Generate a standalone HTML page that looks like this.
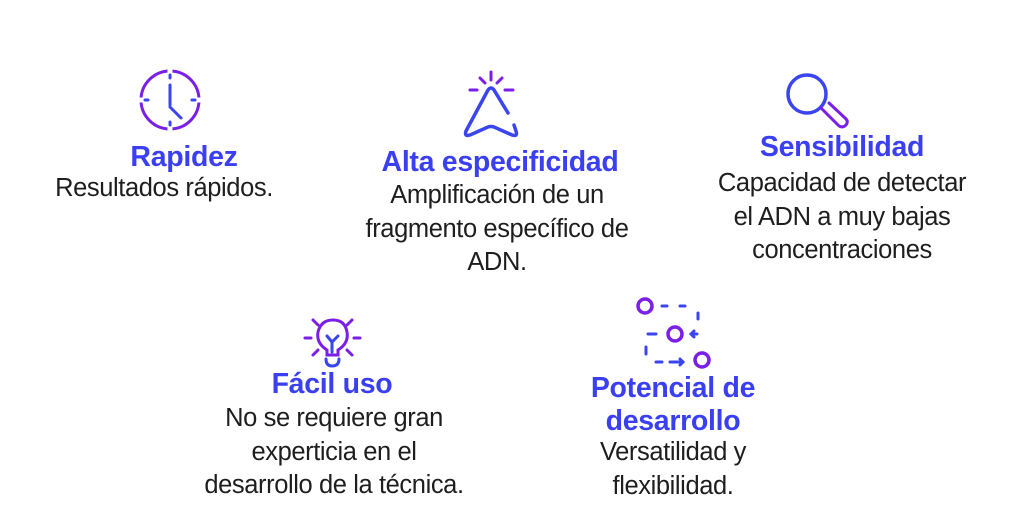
<!DOCTYPE html>
<html><head><meta charset="utf-8"><style>
body{margin:0;width:1024px;height:515px;background:#fff;position:relative;overflow:hidden;font-family:"Liberation Sans",sans-serif}
.t{position:absolute;width:400px;text-align:center;color:#3b3ff2;font-size:28.5px;font-weight:bold;line-height:33px;letter-spacing:-0.3px}
.b{position:absolute;width:400px;text-align:center;color:#1e1e1e;font-size:25.5px;line-height:33.5px;letter-spacing:-0.4px}
svg{position:absolute;left:0;top:0}
</style></head><body>
<svg width="1024" height="515" fill="none" stroke-linecap="round" stroke-width="3">
<circle cx="170" cy="100" r="29" stroke="#7a1ee8"/>
<g stroke="#fff" stroke-width="5"><line x1="170" y1="68" x2="170" y2="76"/><line x1="170" y1="124" x2="170" y2="132"/><line x1="138" y1="100" x2="146" y2="100"/><line x1="194" y1="100" x2="202" y2="100"/></g>
<g stroke="#3a45f0"><line x1="170" y1="75" x2="170" y2="78"/><line x1="170" y1="122" x2="170" y2="125"/><line x1="145" y1="100" x2="148" y2="100"/><line x1="192" y1="100" x2="195" y2="100"/><line x1="170" y1="85" x2="170" y2="105"/><line x1="170" y1="107" x2="181" y2="118"/></g>
<g stroke="#7a1ee8"><line x1="491" y1="72" x2="491" y2="80"/><line x1="480" y1="78" x2="485" y2="83"/><line x1="502" y1="78" x2="497" y2="83"/><line x1="470" y1="90" x2="477" y2="90"/><line x1="505" y1="90" x2="513" y2="90"/></g>
<path d="M508 113 L494 90 Q491 86 488 90 L466 131 Q464 137 470 135 L488 127 Q491 126 494 127 L512 135 Q518 137 516 131 L514 125" stroke="#3a45f0" stroke-width="3.5"/>
<circle cx="807" cy="94" r="19" stroke="#3a45f0" stroke-width="3.5"/>
<path d="M821 108 L838 125 Q842 129 846 125 Q849 121 845 118 L829 103" stroke="#7a1ee8" stroke-width="3"/>
<g stroke="#7a1ee8"><line x1="313" y1="320" x2="318" y2="325"/><line x1="352" y1="320" x2="347" y2="325"/><line x1="305" y1="338" x2="311" y2="338"/><line x1="354" y1="338" x2="360" y2="338"/><line x1="313" y1="355" x2="318" y2="350"/><line x1="352" y1="355" x2="347" y2="350"/>
<path d="M327 355 L327 350 Q316 343 318 332 Q321 320 333 320 Q345 320 347 332 Q349 343 338 350 L338 355 Z"/></g>
<g stroke="#3a45f0"><path d="M327 336 L332 342 L338 336 M332 342 L332 352"/><path d="M326 359 Q326 366 332 366 Q339 366 339 359"/></g>
<g stroke="#7a1ee8" stroke-width="3.5"><circle cx="645" cy="306" r="7"/><circle cx="675" cy="334" r="7"/><circle cx="702" cy="360" r="7"/></g>
<g stroke="#3a45f0"><line x1="662" y1="306" x2="667" y2="306"/><line x1="680" y1="306" x2="685" y2="306"/><line x1="698" y1="313" x2="698" y2="319"/><line x1="648" y1="334" x2="656" y2="334"/><path d="M697 334 L691 334 M694 331 L691 334 L694 337"/><line x1="646" y1="347" x2="646" y2="354"/><path d="M656 362 L662 362 M670 362 L683 362 M680 359 L683 362 L680 365"/></g>
</svg>
<div class="t" style="left:-16px;top:141px">Rapidez</div>
<div class="b" style="left:-36px;top:172px">Resultados rápidos.</div>
<div class="t" style="left:300px;top:146px">Alta especificidad</div>
<div class="b" style="left:297px;top:179px">Amplificación de un<br>fragmento específico de<br>ADN.</div>
<div class="t" style="left:642px;top:131px">Sensibilidad</div>
<div class="b" style="left:642px;top:167px">Capacidad de detectar<br>el ADN a muy bajas<br>concentraciones</div>
<div class="t" style="left:132px;top:368px">Fácil uso</div>
<div class="b" style="left:134px;top:402px">No se requiere gran<br>experticia en el<br>desarrollo de la técnica.</div>
<div class="t" style="left:473px;top:372px">Potencial de<br>desarrollo</div>
<div class="b" style="left:473px;top:436px">Versatilidad y<br>flexibilidad.</div>
</body></html>
